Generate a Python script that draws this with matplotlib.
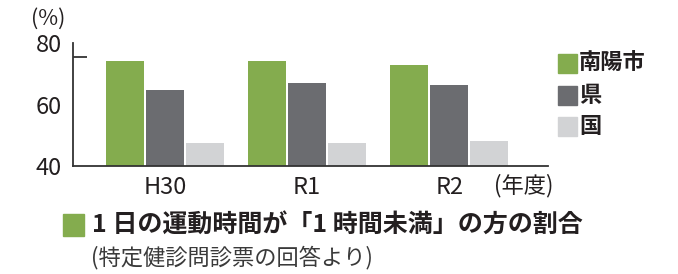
import matplotlib
matplotlib.use('Agg')
from matplotlib import pyplot as plt
from matplotlib.patches import Rectangle
import numpy as np

plt.rcParams['font.family'] = ['Noto Sans CJK JP', 'DejaVu Sans']

# データ
years = ['H30', 'R1', 'R2']
nanyo = [74.0, 74.3, 72.7]
ken = [64.6, 67.1, 66.5]
kuni = [47.6, 47.4, 48.2]
series_names = ['南陽市', '県', '国']
colors = ['#84ac4e', '#6b6c70', '#d2d3d5']

W, H = 678, 274
fig = plt.figure(figsize=(W / 100, H / 100), dpi=100)
ax = fig.add_axes([73 / W, 1 - 166 / H, (548 - 73) / W, 123 / H])

x = np.arange(len(years))
w = 0.268
off = 0.282
for vals, c, dx in zip([nanyo, ken, kuni], colors, [-off, 0, off]):
    ax.bar(x + dx, np.array(vals) - 40, width=w, bottom=40, color=c)

ax.set_xlim(-0.646, 2.695)
ax.set_ylim(40, 80)
ax.set_yticks([40, 60, 80])
ax.set_yticks([60, 75.6], minor=True)
ax.tick_params(axis='y', which='major', length=0, pad=8, labelsize=17, labelcolor='#231f20')
ax.tick_params(axis='y', which='minor', direction='in', length=10, width=1.3, color='#333333')
ax.set_xticks(x)
ax.set_xticklabels(years)
ax.tick_params(axis='x', length=0, pad=7, labelsize=17, labelcolor='#231f20')
for s in ['top', 'right']:
    ax.spines[s].set_visible(False)
for s in ['left', 'bottom']:
    ax.spines[s].set_linewidth(1.3)
    ax.spines[s].set_color('#333333')

fig.text(31 / W, 1 - 19 / H, '(%)', fontsize=15.5, color='#231f20', va='center')
fig.text(524 / W, 1 - 186 / H, '(年度)', fontsize=16, color='#231f20', va='center', ha='center')

# 凡例
for i, (name, c) in enumerate(zip(series_names, colors)):
    yc = [63, 95, 127][i]
    fig.patches.append(Rectangle((558 / W, 1 - (yc + 9.5) / H), 19 / W, 19 / H,
                                 transform=fig.transFigure, color=c))
    fig.text(579 / W, 1 - yc / H, name, fontsize=16, fontweight='bold',
             color='#231f20', va='center')

# タイトル
fig.patches.append(Rectangle((63 / W, 1 - 236 / H), 21 / W, 22 / H,
                             transform=fig.transFigure, color=colors[0]))
fig.text(92 / W, 1 - 225 / H, '1 日の運動時間が「1 時間未満」の方の割合', fontsize=18,
         fontweight='bold', color='#231f20', va='center')
fig.text(91 / W, 1 - 258 / H, '(特定健診問診票の回答より)', fontsize=16,
         color='#3a3a3a', va='center')

fig.savefig('out.png', dpi=100)
